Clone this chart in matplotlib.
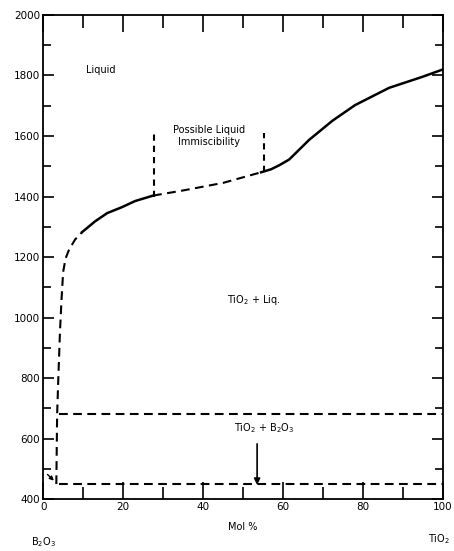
import matplotlib
matplotlib.use('Agg')
import matplotlib.pyplot as plt
from matplotlib.ticker import MultipleLocator

plt.rcParams['font.family'] = ['DejaVu Sans']
plt.rcParams['mathtext.default'] = 'regular'

# liquidus (mol % TiO2, temperature)
left_dash_x = [3.3, 3.5, 3.8, 4.2, 4.6, 5.0, 5.6, 6.5, 8.0, 9.8]
left_dash_y = [450, 680, 800, 950, 1060, 1150, 1195, 1225, 1258, 1283]

solid1_x = [9.8, 13, 16, 19.75, 23, 27.5]
solid1_y = [1283, 1318, 1345, 1365, 1385, 1403]

mid_dash_x = [27.5, 35, 45, 54.5]
mid_dash_y = [1403, 1420, 1445, 1480]

solid2_x = [54.5, 57, 59, 61.5, 63.5, 66.5, 72.3, 78, 86.5, 94.75, 100]
solid2_y = [1480, 1490, 1503, 1522, 1548, 1587, 1650, 1702, 1759, 1795, 1820]

# immiscibility bounds
immisc_x = [27.75, 55.25]
immisc_bottom = [1400, 1480]
immisc_top = [1605, 1610]

# horizontal boundaries
upper_line_y = 680
lower_line_y = 450
line_x_start = 4
line_x_end = 100

dash = (0, (4.2, 2.6))
lw = 1.5

fig = plt.figure(figsize=(4.54, 5.51), dpi=100)
ax = fig.add_axes([0.095, 0.094, 0.881, 0.879])

ax.plot(left_dash_x, left_dash_y, color='black', lw=lw, linestyle=dash)
ax.plot(solid1_x, solid1_y, color='black', lw=1.8)
ax.plot(mid_dash_x, mid_dash_y, color='black', lw=lw, linestyle=dash)
ax.plot(solid2_x, solid2_y, color='black', lw=1.8)

for xi, yb, yt in zip(immisc_x, immisc_bottom, immisc_top):
    ax.plot([xi, xi], [yb, yt], color='black', lw=lw, linestyle=(0, (3.0, 2.4)))

ax.plot([line_x_start, line_x_end], [upper_line_y, upper_line_y], color='black', lw=lw, linestyle=dash)
ax.plot([line_x_start, line_x_end], [lower_line_y, lower_line_y], color='black', lw=lw, linestyle=dash)

# arrows
ax.annotate('', xy=(53.5, 438), xytext=(53.5, 592),
            arrowprops=dict(arrowstyle='-|>', color='black', lw=1.2, mutation_scale=9))
ax.annotate('', xy=(3.2, 455), xytext=(0.6, 488),
            arrowprops=dict(arrowstyle='-|>', color='black', lw=1.0, mutation_scale=6))

fs = 7
ax.text(14.3, 1818, 'Liquid', fontsize=fs, ha='center', va='center')
ax.text(41.5, 1600, 'Possible Liquid\nImmiscibility', fontsize=fs, ha='center', va='center',
        linespacing=1.2)
ax.text(52.7, 1058, r'TiO$_2$ + Liq.', fontsize=fs, ha='center', va='center')
ax.text(55.4, 635, r'TiO$_2$ + B$_2$O$_3$', fontsize=fs, ha='center', va='center')

ax.text(0.5, -0.058, 'Mol %', transform=ax.transAxes, fontsize=fs, ha='center', va='center')
ax.text(0.0, -0.089, r'B$_2$O$_3$', transform=ax.transAxes, fontsize=fs, ha='center', va='center')
ax.text(0.99, -0.083, r'TiO$_2$', transform=ax.transAxes, fontsize=fs, ha='center', va='center')

ax.set_xlim(0, 100)
ax.set_ylim(400, 2000)
ax.xaxis.set_major_locator(MultipleLocator(20))
ax.xaxis.set_minor_locator(MultipleLocator(10))
ax.yaxis.set_major_locator(MultipleLocator(200))
ax.yaxis.set_minor_locator(MultipleLocator(100))
ax.tick_params(axis='both', which='both', direction='in', top=True, right=True,
               labelsize=7.5, width=1.2, pad=2)
ax.tick_params(axis='x', which='major', length=12)
ax.tick_params(axis='x', which='minor', length=9)
ax.tick_params(axis='y', which='major', length=8)
ax.tick_params(axis='y', which='minor', length=6)
for s in ax.spines.values():
    s.set_linewidth(1.3)

plt.savefig('out.png', dpi=100)
